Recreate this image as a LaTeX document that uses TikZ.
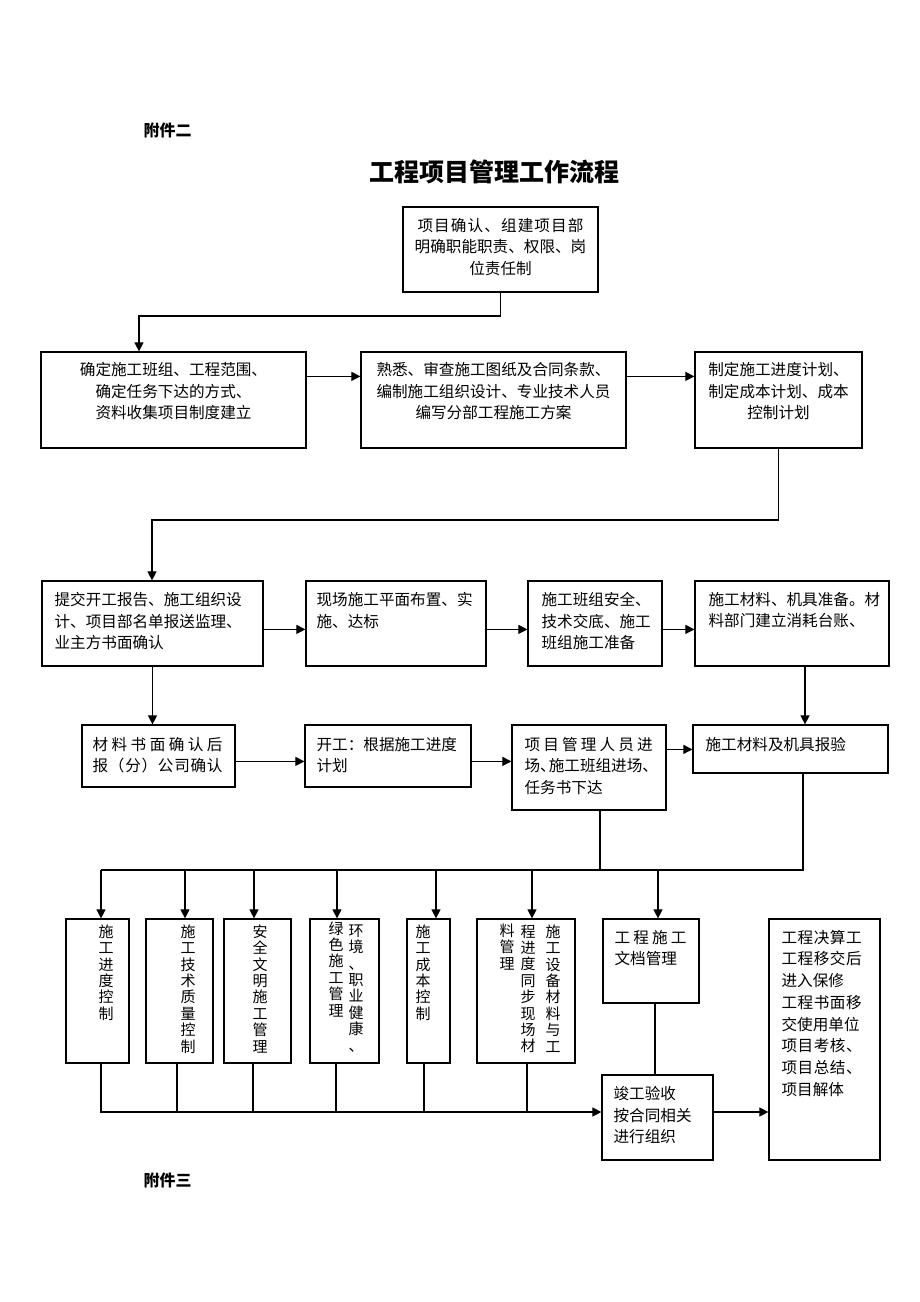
\documentclass[tikz,border=0pt]{standalone}
\usepackage{fontspec}
\setmainfont{Noto Sans CJK SC}
\usetikzlibrary{arrows.meta,positioning}

\makeatletter
\newcommand\spreadline[2]{\makebox[#1][s]{\@tfor\sl@c:=#2\do{\sl@c\hfil}\unskip}}
\makeatother

\tikzset{
  flowbox/.style={draw, line width=1.2pt, inner sep=0pt},
  txt/.style={inner sep=0pt, align=center, font=\fontsize{15.6}{21.7}\selectfont},
  txtl/.style={txt, align=left},
  vtxt/.style={inner sep=0pt, align=center, font=\fontsize{15}{16.4}\selectfont},
  link/.style={line width=1.1pt},
  arr/.style={link, -{Triangle[length=9pt,width=9pt]}}
}

\begin{document}
\begin{tikzpicture}[x=1pt,y=-1pt]
		\useasboundingbox (0,0) rectangle (920,1302);

		% headings
		\node[anchor=west, font=\fontsize{16}{18}\selectfont\bfseries] (att2) at (140,130) {附件二};
		\node[font=\fontsize{25}{30}\selectfont\bfseries] (title) at (494,172) {工程项目管理工作流程};
		\node[anchor=west, font=\fontsize{16}{18}\selectfont\bfseries] (att3) at (140,1180) {附件三};

		% boxes
		\node[flowbox, minimum width=195pt, minimum height=85pt] (a) at (500.5,249.5) {};
		\node[flowbox, minimum width=265pt, minimum height=96pt] (b1) at (173.5,400) {};
		\node[flowbox, minimum width=265pt, minimum height=96pt] (b2) at (493.5,400) {};
		\node[flowbox, minimum width=167pt, minimum height=96pt] (b3) at (778.5,400) {};
		\node[flowbox, minimum width=221pt, minimum height=85pt] (c1) at (152.5,623.5) {};
		\node[flowbox, minimum width=180pt, minimum height=85pt] (c2) at (396,623.5) {};
		\node[flowbox, minimum width=134pt, minimum height=85pt] (c3) at (595,623.5) {};
		\node[flowbox, minimum width=194pt, minimum height=85pt] (c4) at (792,623.5) {};
		\node[flowbox, minimum width=153pt, minimum height=62pt] (d1) at (158.5,756) {};
		\node[flowbox, minimum width=166pt, minimum height=62pt] (d2) at (388,756) {};
		\node[flowbox, minimum width=154pt, minimum height=85pt] (d3) at (589,767.5) {};
		\node[flowbox, minimum width=195pt, minimum height=48pt] (d4) at (790.5,749) {};
		\node[flowbox, minimum width=63pt, minimum height=144pt] (e1) at (97.5,991) {};
		\node[flowbox, minimum width=67pt, minimum height=144pt] (e2) at (179.5,991) {};
		\node[flowbox, minimum width=67pt, minimum height=144pt] (e3) at (257.5,991) {};
		\node[flowbox, minimum width=69pt, minimum height=144pt] (e4) at (344.5,991) {};
		\node[flowbox, minimum width=43pt, minimum height=144pt] (e5) at (428.5,991) {};
		\node[flowbox, minimum width=98pt, minimum height=144pt] (e6) at (526,991) {};
		\node[flowbox, minimum width=96pt, minimum height=84pt] (e7) at (651,961) {};
		\node[flowbox, minimum width=111pt, minimum height=241pt] (e8) at (824.5,1039.5) {};
		\node[flowbox, minimum width=111pt, minimum height=85pt] (e9) at (657.5,1117.5) {};

		% texts
		\node[txt, below=11.5pt of a.north] (a-t) {\spreadline{166pt}{项目确认、组建项目部}\\明确职能职责、权限、岗\\位责任制};
		\node[txt, below=10.5pt of b1.north] (b1-t) {确定施工班组、工程范围、\\确定任务下达的方式、\\资料收集项目制度建立};
		\node[txt, below=10.5pt of b2.north] (b2-t) {熟悉、审查施工图纸及合同条款、\\编制施工组织设计、专业技术人员\\编写分部工程施工方案};
		\node[txt, below=10.5pt of b3.north] (b3-t) {制定施工进度计划、\\制定成本计划、成本\\控制计划};
		\node[txtl, below right=11.5pt and 13pt of c1.north west] (c1-t) {提交开工报告、施工组织设\\计、项目部名单报送监理、\\业主方书面确认};
		\node[txtl, below right=11.5pt and 11pt of c2.north west] (c2-t) {现场施工平面布置、实\\施、达标};
		\node[txtl, below right=11.5pt and 14pt of c3.north west] (c3-t) {施工班组安全、\\技术交底、施工\\班组施工准备};
		\node[txtl, below right=11.5pt and 14pt of c4.north west] (c4-t) {施工材料、机具准备。材\\料部门建立消耗台账、};
		\node[txtl, below right=12.5pt and 11pt of d1.north west] (d1-t) {\spreadline{130pt}{材料书面确认后}\\\spreadline{130pt}{报（分）公司确认}};
		\node[txtl, below right=12.5pt and 12pt of d2.north west] (d2-t) {开工：根据施工进度\\计划};
		\node[txtl, below right=12.5pt and 13pt of d3.north west] (d3-t) {\spreadline{128pt}{项目管理人员进}\\场、\kern-7pt施工班组进场、\\任务书下达};
		\node[txtl, below right=12.5pt and 13pt of d4.north west] (d4-t) {施工材料及机具报验};
		\node[txtl, below right=11.5pt and 12pt of e7.north west] (e7-t) {\spreadline{72pt}{工程施工}\\文档管理};
		\node[txtl, below right=11.5pt and 13pt of e8.north west] (e8-t) {\spreadline{80pt}{工程决算工}\\\spreadline{80pt}{工程移交后}\\进入保修\\\spreadline{80pt}{工程书面移}\\交使用单位\\\spreadline{80pt}{项目考核、}\\\spreadline{80pt}{项目总结、}\\项目解体};
		\node[txtl, below right=11.5pt and 12pt of e9.north west] (e9-t) {竣工验收\\按合同相关\\进行组织};

		% vertical texts
		\node[vtxt, anchor=north] (e1-t) at ([xshift=8.5pt,yshift=-6pt]e1.north) {施\\工\\进\\度\\控\\制};
		\node[vtxt, anchor=north] (e2-t) at ([xshift=8.5pt,yshift=-6pt]e2.north) {施\\工\\技\\术\\质\\量\\控\\制};
		\node[vtxt, anchor=north] (e3-t) at ([xshift=2.5pt,yshift=-6pt]e3.north) {安\\全\\文\\明\\施\\工\\管\\理};
		\node[vtxt, anchor=north] (e4-r) at ([xshift=11.5pt,yshift=-6pt]e4.north) {环\\境\\、\\职\\业\\健\\康\\、};
		\node[vtxt, anchor=north] (e4-l) at ([xshift=-8.5pt,yshift=-3pt]e4.north) {绿\\色\\施\\工\\管\\理};
		\node[vtxt, anchor=north] (e5-t) at ([xshift=-5.5pt,yshift=-6pt]e5.north) {施\\工\\成\\本\\控\\制};
		\node[vtxt, anchor=north] (e6-r) at ([xshift=27pt,yshift=-6pt]e6.north) {施\\工\\设\\备\\材\\料\\与\\工};
		\node[vtxt, anchor=north] (e6-m) at ([xshift=2pt,yshift=-6pt]e6.north) {程\\进\\度\\同\\步\\现\\场\\材};
		\node[vtxt, anchor=north] (e6-l) at ([xshift=-19pt,yshift=-5pt]e6.north) {料\\管\\理};

		% connectors
		\coordinate (j1) at (139,316);
		\coordinate (j2) at (152,520);
		\coordinate (bl) at (101,870);
		\coordinate (bb) at (101,1112);

		\draw[arr] (a.south) |- (j1) -- (j1 |- b1.north);
		\draw[arr] ([yshift=-25pt]b1.north east) -- ([yshift=-25pt]b2.north west);
		\draw[arr] ([yshift=-25pt]b2.north east) -- ([yshift=-25pt]b3.north west);
		\draw[arr] (b3.south) |- (j2) -- (j2 |- c1.north);

		\draw[arr] ([yshift=-49pt]c1.north east) -- ([yshift=-49pt]c2.north west);
		\draw[arr] ([yshift=-49pt]c2.north east) -- ([yshift=-49pt]c3.north west);
		\draw[arr] ([yshift=-49pt]c3.north east) -- ([yshift=-49pt]c4.north west);
		\draw[arr] (c1.south) -- (c1.south |- d1.north);
		\draw[arr] ([xshift=13pt]c4.south) -- ([xshift=13pt]c4.south |- d4.north);

		\draw[arr] ([yshift=-37pt]d1.north east) -- ([yshift=-37pt]d2.north west);
		\draw[arr] ([yshift=-37pt]d2.north east) -- ([yshift=-37pt]d3.north west);
		\draw[arr] ([yshift=-25pt]d3.north east) -- ([yshift=-25pt]d4.north west);

		\draw[link] ([xshift=12.5pt]d4.south) |- (bl);
		\draw[link] ([xshift=11pt]d3.south) -- ([xshift=11pt]d3.south |- bl);
		\foreach \n/\dx in {e1/3.5, e2/5.5, e3/-3.5, e4/-7.5, e5/7.5, e6/6, e7/7}
		\draw[arr] ([xshift=\dx]\n.north |- bl) -- ([xshift=\dx]\n.north);

		\draw[arr] ([xshift=3.5pt]e1.south) |- (bb -| e9.west);
		\foreach \n/\dx in {e2/-2.5, e3/-4.5, e4/-8.5, e5/-4.5, e6/1}
		\draw[link] ([xshift=\dx]\n.south) -- ([xshift=\dx]\n.south |- bb);
		\draw[link] ([xshift=4pt]e7.south) -- ([xshift=4pt]e7.south |- e9.north);
		\draw[arr] (e9.east |- bb) -- (e8.west |- bb);
\end{tikzpicture}
\end{document}
